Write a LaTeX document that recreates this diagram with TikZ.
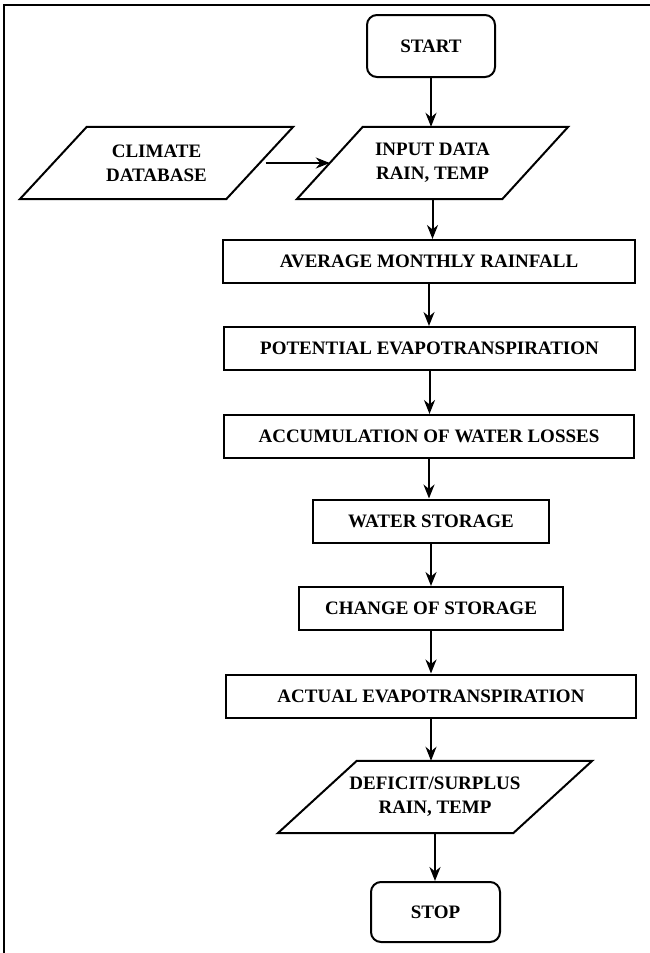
\documentclass[tikz,border=0pt]{standalone}
\usepackage{fontspec}
\setmainfont{Liberation Serif}
\usetikzlibrary{arrows.meta,calc}
\begin{document}
\begin{tikzpicture}[x=1pt,y=-1pt,
  every node/.style={font=\bfseries\fontsize{19}{24}\selectfont, align=center, inner sep=0pt},
  procbox/.style={draw, line width=2pt, rectangle, minimum height=43pt},
  termbox/.style={draw, line width=2pt, rectangle, rounded corners=10pt, minimum width=128pt, minimum height=62pt},
  iobox/.style={rectangle, minimum height=72pt},
  ioline/.style={line width=2pt, line join=miter},
  arr/.style={-{Stealth[length=14pt,width=11pt,inset=4.5pt]}, line width=2pt},
  frame/.style={line width=2.4pt}
]
\useasboundingbox (0,0) rectangle (650,953);
\draw[frame] (650,5) -- (4,5) -- (4,953);

\node[termbox] (start) at (431,46) {START};
\node[iobox, minimum width=271pt] (input) at (432.5,163) {INPUT DATA\\RAIN, TEMP};
\draw[ioline] (input.south west) -- ($(input.north west)+(66,0)$) -- (input.north east) -- ($(input.south east)+(-66,0)$) -- cycle;
\node[iobox, minimum width=273pt] (clim) at (156.5,163) {CLIMATE\\DATABASE};
\draw[ioline] (clim.south west) -- ($(clim.north west)+(67,0)$) -- (clim.north east) -- ($(clim.south east)+(-67,0)$) -- cycle;
\node[procbox, minimum width=412pt] (avg) at (429,261.5) {AVERAGE MONTHLY RAINFALL};
\node[procbox, minimum width=411pt] (pot) at (429.5,348.5) {POTENTIAL EVAPOTRANSPIRATION};
\node[procbox, minimum width=410pt] (acc) at (429,436.5) {ACCUMULATION OF WATER LOSSES};
\node[procbox, minimum width=236pt] (ws) at (431,521) {WATER STORAGE};
\node[procbox, minimum width=264pt] (cs) at (431,608.5) {CHANGE OF STORAGE};
\node[procbox, minimum width=410pt] (ae) at (431,696) {ACTUAL EVAPOTRANSPIRATION};
\node[iobox, minimum width=314pt] (def) at (435,797) {DEFICIT/SURPLUS\\RAIN, TEMP};
\draw[ioline] (def.south west) -- ($(def.north west)+(79,0)$) -- (def.north east) -- ($(def.south east)+(-79,0)$) -- cycle;
\node[termbox, minimum width=129pt, minimum height=60pt] (stop) at (435.5,912) {STOP};

\draw[arr] (start.south) -- (start.south |- input.north);
\draw[arr, shorten <=6pt] ($(clim.east)+(-33.5,0)$) -- ($(input.west)+(33,0)$);
\draw[arr] (input.south) -- (input.south |- avg.north);
\draw[arr] (avg.south) -- (avg.south |- pot.north);
\draw[arr] (pot.south) -- (pot.south |- acc.north);
\draw[arr] (acc.south) -- (acc.south |- ws.north);
\draw[arr] (ws.south) -- (ws.south |- cs.north);
\draw[arr] (cs.south) -- (cs.south |- ae.north);
\draw[arr] (ae.south) -- (ae.south |- def.north);
\draw[arr] (def.south) -- (def.south |- stop.north);
\end{tikzpicture}
\end{document}
